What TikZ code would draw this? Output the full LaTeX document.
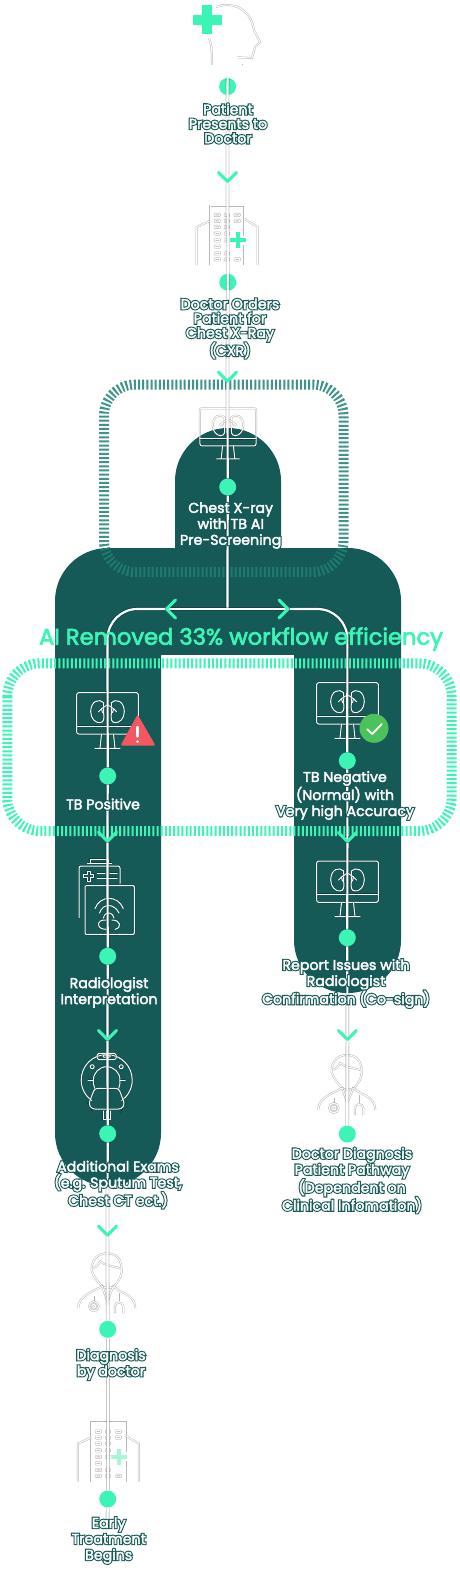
\documentclass[tikz,border=0pt]{standalone}
\usepackage{fontspec}
\setmainfont{Poppins}
\usetikzlibrary{arrows.meta}
\definecolor{bodyteal}{HTML}{155A57}
\definecolor{flowgreen}{HTML}{3CF5B5}
\definecolor{paleplus}{HTML}{A8F5D8}
\definecolor{bandteal}{HTML}{1F8074}
\definecolor{alertred}{HTML}{F4575F}
\definecolor{okgreen}{HTML}{4CC35A}
% testo bianco con contorno scuro
\newcommand{\olab}[1]{\rlap{\color{bodyteal}\addfontfeature{FakeBold=18}#1}{\color{white}\addfontfeature{FakeBold=2.6}#1}}
\tikzset{
    bodyfill/.style={fill=bodyteal,rounded corners=53pt},
    bandtop/.style={draw=bandteal,draw opacity=.85,line width=10pt,dash pattern=on 2pt off 2.15pt,rounded corners=31pt},
    bandgreen/.style={draw=flowgreen,line width=10pt,dash pattern=on 2pt off 2.15pt,rounded corners=33pt},
    flowline/.style={draw=white,line width=2.2pt,preaction={draw=black,draw opacity=.22,line width=3.8pt}},
    flowtip/.style={flowline,-{Straight Barb[color=flowgreen,length=9pt,width=18pt,line width=3pt,round]}},
    dotnode/.style={circle,fill=flowgreen,inner sep=0pt,minimum size=17pt},
    lblnode/.style={align=center,font=\fontsize{14.2}{16}\selectfont,inner sep=0pt},
    lbltight/.style={lblnode,font=\fontsize{14.2}{14.4}\selectfont},
    iconline/.style={draw=white,line width=1pt,line cap=round,line join=round,preaction={draw=black,draw opacity=.28,line width=2pt}},
    plusmark/.style={draw=white,line cap=butt,preaction={draw=black,draw opacity=.3,line cap=butt}},
    pics/lungscreen/.style={code={
        %schermo e supporto
        \draw[iconline,rounded corners=2pt] (-30.8,0) rectangle (30.8,41.3);
        \draw[iconline] (-30.8,33.3)--++(61.6,0);
        \draw[iconline] (-6,41.3)--++(-1.5,14.3) (6,41.3)--++(1.5,14.3) (-12.5,55.6)--++(25,0);
        %polmoni
        \foreach \s in {-1,1}{
            \draw[iconline,xscale=\s] (3.8,10) ..controls (8,5.5) and (16.8,8) .. (16.8,19) ..controls (16.8,26) and (12,30) .. (8,30) ..controls (3.5,30) and (3.2,26) .. (3.8,21) --cycle;
            \draw[iconline,xscale=\s] (0,12)--++(6,4)--++(3,3) (6,16)--++(-1,4);
        }
    }},
    pics/hospital/.style={code={
        \draw[iconline] (-17.2,59.3)--++(0,-59.3)--++(34.4,0)--++(0,59.3);
        \draw[iconline] (-17.2,15.3)--++(-13.3,6)--++(0,38) (17.2,13.3)--++(13.3,8)--++(0,38);
        %finestre
        \foreach \wy in {8.3,14.3,20.3,27,33.6,40,46.6,52.6}{
            \draw[iconline,rounded corners=.6pt] (-12.4,\wy) rectangle ++(5,2);
        }
        \foreach \wy in {8.3,14.3,20.3,27,33.6,46.6,52.6}{
            \draw[iconline,rounded corners=.6pt] (-2.4,\wy) rectangle ++(4,2);
        }
        \foreach \wy in {8.3,14.3,52.6}{
            \draw[iconline,rounded corners=.6pt] (7.6,\wy) rectangle ++(5,2);
        }
        %croce
        \draw[plusmark,line width=9pt,preaction={line width=10.5pt}] (10.5,25.5)--++(0,18) (1.5,34.5)--++(18,0);
        \draw[draw=#1,line width=4.2pt] (10.5,26.5)--++(0,16) (2.5,34.5)--++(16,0);
    }},
    pics/doctor/.style={code={
        %testa e capelli
        \draw[iconline] (-15.7,17) ..controls (-16,5) and (-8,0) .. (-1,0) ..controls (8,0) and (14,4) .. (14.5,17) ..controls (14,25) and (10,29) .. (7,33) ..controls (3,35) and (-3,35) .. (-5,33) ..controls (-9,29) and (-13,25) .. (-15.7,17);
        \draw[iconline] (-14,15) ..controls (-10,13) and (-8,10) .. (-7,8) ..controls (-3,12) and (6,13) .. (13,15);
        %spalle e collo
        \draw[iconline] (-29,55) ..controls (-29,45) and (-20,41) .. (-15,38) --(-5,33) --(0,48) --(6,33) --(13,38) ..controls (20,41) and (28,45) .. (28,55);
        %stetoscopio
        \draw[iconline] (-13.5,43)--++(0,5) (11.5,40)--++(0,8);
        \draw[iconline] (-13.5,53) circle (4.8pt) (-13.5,53) circle (2pt);
        \draw[iconline] (7.5,60)--++(0,-7) ..controls (7.5,48) and (16,48) .. (16,53) --++(0,7);
    }},
    pics/radiology/.style={code={
        %cartella
        \draw[iconline,rounded corners=2pt] (79,917.7)--(79,866)--(120,866)--(120,883.3);
        \draw[iconline] (90,863.3)--(90,859.3)--(108,859.3)--(108,863.3) (87.5,863.3)--(111.5,863.3);
        \draw[iconline] (87,871)--++(3.4,0)--++(0,3.4)--++(3.4,0)--++(0,3.4)--++(-3.4,0)--++(0,3.4)--++(-3.4,0)--++(0,-3.4)--++(-3.4,0)--++(0,-3.4)--++(3.4,0)--cycle;
        \draw[iconline] (97.3,873.3)--(105,873.3) (110,873.3)--(117,873.3) (97.3,878.3)--(117,878.3);
        %lastra
        \draw[iconline,rounded corners=1pt] (85,885.7) rectangle (134.3,934.3);
        \draw[iconline] (95,908.5) ..controls (100,895) and (118,895) .. (123.3,908.5);
        \draw[iconline] (99.5,913) ..controls (103,903) and (114,903) .. (119,913);
        \draw[iconline] (103.5,918) ..controls (105,911) and (112,911) .. (114,918);
        \draw[iconline] (106,920) ..controls (96,919) and (96,929.5) .. (106,929.3);
        \draw[iconline] (112,920) ..controls (121,920) and (122,928) .. (115,929.3);
    }},
    pics/scanner/.style={code={
        %anello
        \draw[iconline] (-15,20.6) ..controls (-21,16) and (-25.5,9) .. (-25.5,0) ..controls (-25.5,-14.1) and (-14.1,-25.5) .. (0,-25.5) ..controls (14.1,-25.5) and (25.5,-14.1) .. (25.5,0) ..controls (25.5,9) and (21,16) .. (15,20.6);
        \draw[iconline] (-12,8.3) ..controls (-13.5,5) and (-13.3,3) .. (-13.3,0) ..controls (-13.3,-7.3) and (-7.3,-13.3) .. (0,-13.3) ..controls (7.3,-13.3) and (13.3,-7.3) .. (13.3,0) ..controls (13.3,3) and (13.5,5) .. (12,8.3);
        \draw[iconline] (-18.5,0)--++(5,0) (13.5,0)--++(5,0);
        \draw[iconline] (-14.5,-13.3) circle (2pt) (14.5,-13.3) circle (2pt);
        %cappuccio
        \draw[iconline,rounded corners=1.5pt] (-9.5,-26.6) rectangle (9.5,-20.5);
        \draw[iconline,rounded corners=.5pt] (-3.5,-25) rectangle (3.5,-23);
        %base
        \draw[iconline,rounded corners=3pt] (-12,8.3)--(12,8.3)--(18,24)--(15,29)--(-15,29)--(-18,24)--cycle;
        \draw[iconline] (-3.5,31)--++(0,8)--++(7,0)--++(0,-8) (0,31)--++(0,8);
    }}
}
\begin{document}
\begin{tikzpicture}[x=1pt,y=-1pt]
        \useasboundingbox (0,0) rectangle (460,1570);
        %sagoma scura
        \fill[bodyfill] (175,428) rectangle (281,600);
        \fill[bodyfill] (55,548) rectangle (161,1186);
        \fill[bodyfill] (294,548) rectangle (401,993);
        \fill[fill=bodyteal] (108,548) rectangle (348,655);
        %bande tratteggiate
        \draw[bandtop] (104,384.5) rectangle (343.5,572);
        \draw[bandgreen] (7.3,663.3) rectangle (451.7,831);
        %icona paziente
        \draw[iconline] (216,7) ..controls (228,2) and (250,5) .. (254,30) --(260,42) --(255,47) --(252,58) --(237.3,57.3);
        \draw[iconline] (241.7,65)--++(0,-1);
        \draw[iconline] (209,38) ..controls (212,45) and (212,55) .. (212,65);
        \draw[plusmark,line width=15pt,preaction={line width=16.5pt}] (207,4.5)--++(0,31) (191.5,20)--++(31,0);
        \draw[draw=flowgreen,line width=9.6pt] (207,5.5)--++(0,29) (192.5,20)--++(29,0);
        %icone
        \pic at (227.2,205.7) {hospital=flowgreen};
        \pic[scale=.91] at (228,408.3) {lungscreen};
        \pic at (107.5,692.7) {lungscreen};
        \pic at (347.5,682.7) {lungscreen};
        \pic at (347.5,861) {lungscreen};
        \pic at (0,0) {radiology};
        \pic at (106.7,1080) {scanner};
        \pic at (347.3,1055) {doctor};
        \pic at (107.3,1253.3) {doctor};
        \pic at (108.3,1422.3) {hospital=paleplus};
        %segnali
        \fill[alertred,rounded corners=1.5pt] (137.6,714.5)--(155.5,745.5)--(120.5,745.5)--cycle;
        \draw[white,line width=2.4pt,line cap=round] (137.4,727)--++(0,9.5) (137.4,741.5)--++(0,.2);
        \fill[okgreen] (374,728.3) circle (14.5pt);
        \draw[white,line width=1.8pt,line cap=round,line join=round] (367.3,729.3)--(372.3,734)--(381.7,724);
        %punti sotto la linea
        \node[dotnode] (dotpatient) at (227.6,86.5) {};
        \node[dotnode] (dotorders) at (227.8,282.3) {};
        %punte sul percorso
        \coordinate (tippatient) at (227.5,183);
        \coordinate (tiporders) at (227.5,382.7);
        \coordinate (split) at (227.5,609);
        \coordinate (tipleft) at (165,609);
        \coordinate (tipright) at (289.5,609);
        \coordinate (tippositive) at (107.5,842.7);
        \coordinate (tipnegative) at (347.4,843);
        \coordinate (tipradio) at (107.5,1041);
        \coordinate (tipreport) at (347.4,1041);
        \coordinate (tipexams) at (107.5,1236.7);
        \coordinate (endearly) at (107.6,1523);
        %nodi del percorso
        \node[dotnode] (dotchest) at (227.7,487) {};
        \node[dotnode] (dotpositive) at (107.7,776) {};
        \node[dotnode] (dotnegative) at (347.3,760.7) {};
        \node[dotnode] (dotradio) at (107.7,956.3) {};
        \node[dotnode] (dotexams) at (107.7,1133.7) {};
        \node[dotnode] (dotreport) at (347.3,937.7) {};
        \node[dotnode] (dotpathway) at (347.3,1134) {};
        \node[dotnode] (dotdiagnosis) at (107.7,1329.3) {};
        \node[dotnode] (dotearly) at (107.7,1499) {};
        %colonna centrale
        \draw[flowtip] (dotpatient.north) -- (tippatient);
        \draw[flowline] (tippatient) -- (dotorders.center);
        \draw[flowtip] (dotorders.center) -- (tiporders);
        \draw[flowline] (tiporders) -- (dotchest);
        \draw[flowline] (dotchest) -- (split);
        %ramo sinistro
        \draw[flowtip] (split) -- (tipleft);
        \draw[flowline,rounded corners=30pt] (tipleft) -- (107.5,609) -- (dotpositive);
        \draw[flowtip] (dotpositive) -- (tippositive);
        \draw[flowline] (tippositive) -- (dotradio);
        \draw[flowtip] (dotradio) -- (tipradio);
        \draw[flowline] (tipradio) -- (dotexams);
        \draw[flowtip] (dotexams) -- (tipexams);
        \draw[flowline] (tipexams) -- (dotdiagnosis);
        \draw[flowline] (dotdiagnosis) -- (dotearly);
        \draw[flowline] (dotearly) -- (endearly);
        %ramo destro
        \draw[flowtip] (split) -- (tipright);
        \draw[flowline,rounded corners=30pt] (tipright) -- (347.4,609) -- (dotnegative);
        \draw[flowtip] (dotnegative) -- (tipnegative);
        \draw[flowline] (tipnegative) -- (dotreport);
        \draw[flowtip] (dotreport) -- (tipreport);
        \draw[flowline] (tipreport) -- (dotpathway);
        %testi
        \node[font=\fontsize{22.6}{24}\selectfont\addfontfeature{FakeBold=3},text=flowgreen,inner sep=0pt] (title) at (241,639) {AI Removed 33\% workflow efficiency};
        \node[lbltight] (lblpatient) at (228,123.5) {\olab{Patient}\\\olab{Presents to}\\\olab{Doctor}};
        \node[lbltight] (lblorders) at (230,328.5) {\olab{Doctor Orders}\\\olab{Patient for}\\\olab{Chest X-Ray}\\\olab{(CXR)}};
        \node[lblnode] (lblchest) at (230.7,525.5) {\olab{Chest X-ray}\\\olab{with TB AI}\\\olab{Pre-Screening}};
        \node[lblnode] (lblpositive) at (103,804) {\olab{TB Positive}};
        \node[lblnode] (lblnegative) at (345,795.5) {\olab{TB Negative}\\\olab{(Normal) with}\\\olab{Very high Accuracy}};
        \node[lblnode] (lblradio) at (109,992.5) {\olab{Radiologist}\\\olab{Interpretation}};
        \node[lblnode] (lblexams) at (118,1184.5) {\olab{Additional Exams}\\\olab{(e.g. Sputum Test,}\\\olab{Chest CT ect.)}};
        \node[lblnode] (lblreport) at (346,983.5) {\olab{Report Issues with}\\\olab{Radiologist}\\\olab{Confirmation (Co-sign)}};
        \node[lblnode] (lblpathway) at (352,1180.5) {\olab{Doctor Diagnosis}\\\olab{Patient Pathway}\\\olab{(Dependent on}\\\olab{Clinical Infomation)}};
        \node[lblnode] (lbldiagnosis) at (111,1364.5) {\olab{Diagnosis}\\\olab{by doctor}};
        \node[lblnode] (lblearly) at (108.7,1540.5) {\olab{Early}\\\olab{Treatment}\\\olab{Begins}};
    \end{tikzpicture}
\end{document}
